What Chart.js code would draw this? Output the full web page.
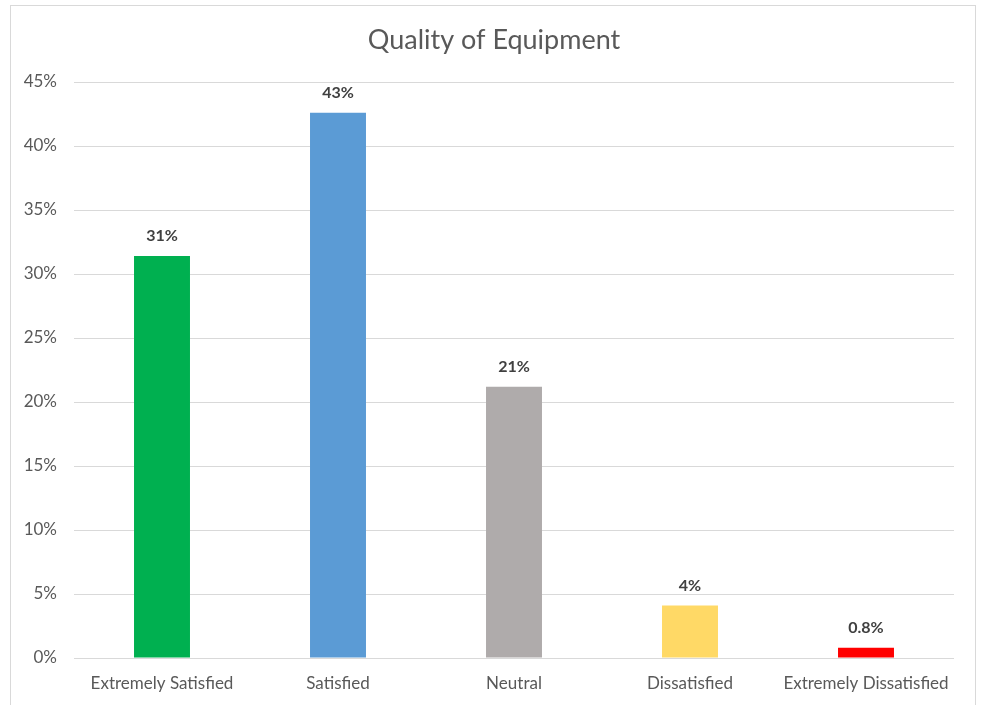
<!DOCTYPE html>
<html>
<head>
<meta charset="utf-8">
<script src="https://cdn.jsdelivr.net/npm/chart.js@4"></script>
<style>
html,body{margin:0;padding:0;background:#fff;}
#wrap{position:relative;width:982px;height:705px;}
#frame{position:absolute;left:10px;top:5px;width:966px;height:710px;border:1px solid #d9d9d9;box-sizing:border-box;}
canvas{position:absolute;left:0;top:0;}
</style>
</head>
<body>
<div id="wrap">
<div id="frame"></div>
<canvas id="c" width="982" height="705"></canvas>
</div>
<script>
const categories = ["Extremely Satisfied", "Satisfied", "Neutral", "Dissatisfied", "Extremely Dissatisfied"];
const values = [31.4, 42.6, 21.2, 4.1, 0.8];
const valueLabels = ["31%", "43%", "21%", "4%", "0.8%"];
const barColors = ["#00b050", "#5b9bd5", "#afabab", "#ffd966", "#ff0000"];
const yTicks = [0, 5, 10, 15, 20, 25, 30, 35, 40, 45];
const titleText = "Quality of Equipment";

const FONT = "Lato, 'Open Sans', sans-serif";

const dataLabels = {
  id: 'dataLabels',
  afterDatasetsDraw(chart) {
    const ctx = chart.ctx;
    const meta = chart.getDatasetMeta(0);
    ctx.save();
    ctx.font = "bold 16px " + FONT;
    ctx.fillStyle = "#404040";
    ctx.textAlign = "center";
    ctx.textBaseline = "middle";
    meta.data.forEach((bar, i) => {
      ctx.fillText(valueLabels[i], bar.x, bar.y - 20);
    });
    ctx.restore();
  }
};

const frameTitle = {
  id: 'frameTitle',
  afterDraw(chart) {
    const ctx = chart.ctx;
    ctx.save();
    ctx.font = "27px " + FONT;
    ctx.fillStyle = "#595959";
    ctx.textAlign = "center";
    ctx.textBaseline = "middle";
    ctx.fillText(titleText, 494, 40);
    ctx.restore();
  }
};

new Chart(document.getElementById('c'), {
  type: 'bar',
  data: {
    labels: categories,
    datasets: [{
      data: values,
      backgroundColor: barColors,
      categoryPercentage: 1,
      barPercentage: 0.318
    }]
  },
  options: {
    responsive: false,
    animation: false,
    devicePixelRatio: 1,
    layout: { padding: { left: 0, right: 28, top: 82, bottom: 8 } },
    plugins: {
      legend: { display: false },
      tooltip: { enabled: false },
      title: { display: false }
    },
    scales: {
      x: {
        grid: { display: false },
        border: { display: false },
        ticks: { color: "#595959", font: { family: FONT, size: 17 }, padding: 7, maxRotation: 0, autoSkip: false },
        afterFit(s) { s.height = 39; }
      },
      y: {
        min: 0, max: 45,
        afterBuildTicks(s) { s.ticks = yTicks.map(v => ({ value: v })); },
        grid: { color: "#d9d9d9", lineWidth: 1, drawTicks: false },
        border: { display: false },
        ticks: { color: "#595959", font: { family: FONT, size: 17 }, padding: 17, callback: v => v + "%" },
        afterFit(s) { s.width = 74; }
      }
    }
  },
  plugins: [dataLabels, frameTitle]
});
</script>
</body>
</html>
